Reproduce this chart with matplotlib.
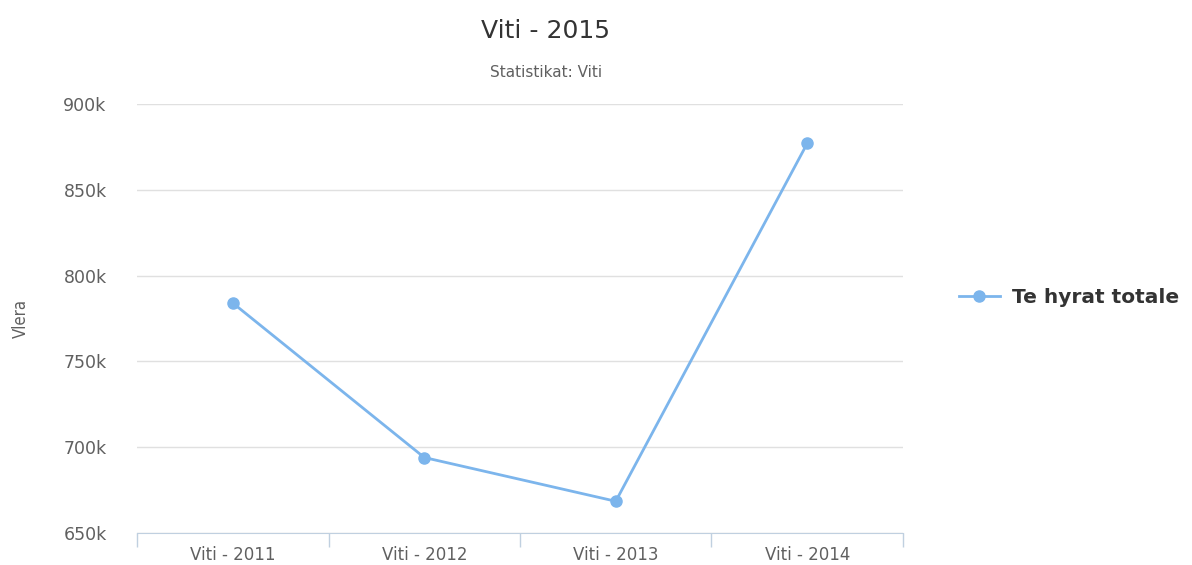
import matplotlib.pyplot as plt
from matplotlib.ticker import FuncFormatter

# data
categories = ["Viti - 2011", "Viti - 2012", "Viti - 2013", "Viti - 2014"]
values = [784000, 694000, 668500, 877000]
series_name = "Te hyrat totale"
yticks = [650000, 700000, 750000, 800000, 850000, 900000]

line_color = "#7cb5ec"
grid_color = "#e0e0e0"
text_color = "#606060"

fig = plt.figure(figsize=(11.92, 5.65), dpi=100)
ax = fig.add_axes([0.115, 0.0566, 0.6425, 0.7594])

xs = list(range(len(categories)))
ax.plot(xs, values, color=line_color, linewidth=2, marker="o", markersize=8,
        label=series_name)

ax.set_xlim(-0.5, len(categories) - 0.5)
ax.set_ylim(yticks[0], yticks[-1])
ax.set_yticks(yticks)
ax.yaxis.set_major_formatter(FuncFormatter(lambda v, p: "%dk" % (v / 1000)))
ax.grid(axis="y", color=grid_color, linewidth=1)
ax.set_axisbelow(True)

# category ticks between bands, labels at band centres
ax.set_xticks([i - 0.5 for i in range(len(categories) + 1)])
ax.set_xticklabels([])
ax.set_xticks(xs, minor=True)
ax.set_xticklabels(categories, minor=True)
ax.tick_params(axis="x", which="major", length=10, color="#c0d0e0", width=1)
ax.tick_params(axis="x", which="minor", length=0, labelsize=12,
               labelcolor=text_color, pad=9)
ax.tick_params(axis="y", length=0, labelsize=12.5, labelcolor=text_color, pad=22)

for side in ["top", "right", "left"]:
    ax.spines[side].set_visible(False)
ax.spines["bottom"].set_color("#c0d0e0")

ax.set_ylabel("Vlera", color=text_color, fontsize=12, labelpad=24,
              fontstretch="condensed")

fig.text(0.458, 0.945, "Viti - 2015", ha="center", va="center",
         fontsize=18, color="#333333")
fig.text(0.458, 0.872, "Statistikat: Viti", ha="center", va="center",
         fontsize=11, color=text_color)

ax.legend(loc="center left", bbox_to_anchor=(1.05, 0.548), frameon=False,
          prop={"weight": "bold", "size": 14.5}, handlelength=2,
          handletextpad=0.6, labelcolor="#333333")

fig.savefig("out.png", dpi=100)
